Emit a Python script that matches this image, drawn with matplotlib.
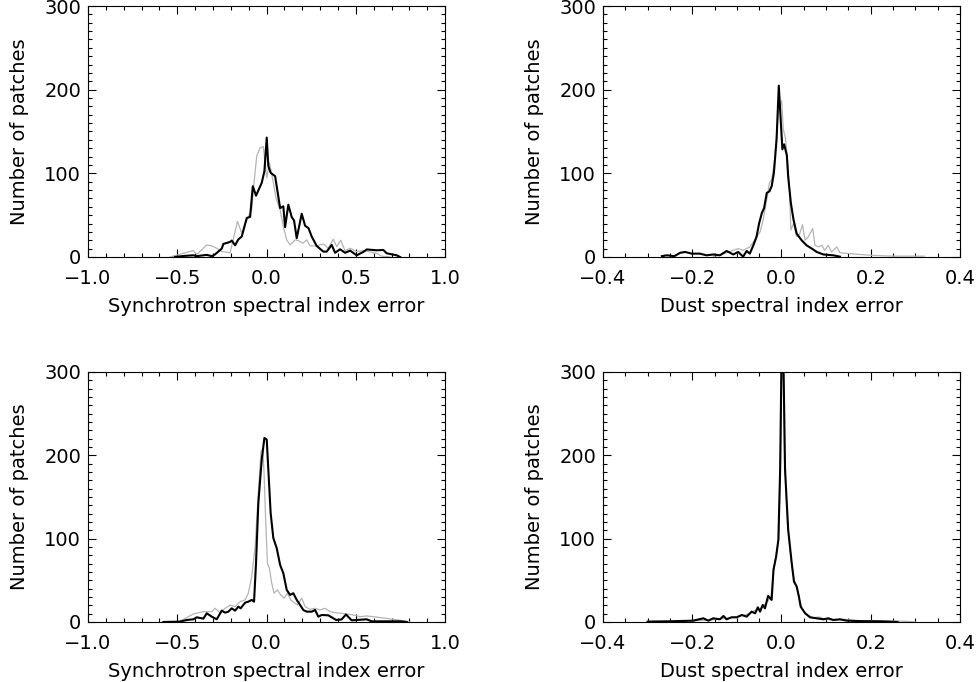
"""Spectral index error histograms, 2x2 panels (synchrotron / dust)."""

import matplotlib

matplotlib.use("Agg")
import matplotlib.pyplot as plt
from matplotlib.ticker import FuncFormatter, MultipleLocator

BLACK, GREY = "#000000", "#b4b4b4"
plt.rcParams.update(
    {
        "font.family": "DejaVu Sans",
        "font.size": 14,
        "axes.linewidth": 0.8,
    }
)

# --- top-left: synchrotron, case 1 ---
syn1_blk_x = [-0.513, -0.466, -0.41, -0.391, -0.335, -0.307, -0.289, -0.251, -0.242, -0.204,
              -0.195, -0.176, -0.158, -0.139, -0.111, -0.092, -0.077, -0.059, -0.027, -0.012,
              0.001, 0.010, 0.023, 0.048, 0.076, 0.094, 0.104, 0.122, 0.141, 0.154,
              0.169, 0.197, 0.216, 0.235, 0.253, 0.281, 0.318, 0.337, 0.365, 0.384,
              0.412, 0.440, 0.468, 0.505, 0.542, 0.561, 0.617, 0.654, 0.673, 0.729, 0.748]
syn1_blk_y = [0, 1.2, 2, 1, 2.5, 1, 3, 10, 15.6, 18,
              19.6, 14, 21, 24.4, 46.5, 48, 84.6, 73.3, 88.6, 102.6,
              142.7, 108.6, 100.6, 96.6, 58.5, 60.5, 35.7, 62.5, 47.7, 43.7,
              22.4, 51.7, 37.3, 34.5, 24.4, 13.2, 6.4, 6.4, 14.4, 5,
              9.2, 5, 7.6, 2, 6, 9, 8, 8.4, 4.4, 2, 0]
syn1_gry_x = [-0.541, -0.466, -0.41, -0.391, -0.335, -0.307, -0.279, -0.251, -0.204, -0.163,
              -0.139, -0.111, -0.083, -0.074, -0.055, -0.036, -0.018, 0.001, 0.016, 0.035,
              0.053, 0.076, 0.094, 0.113, 0.132, 0.160, 0.178, 0.203, 0.225, 0.244,
              0.281, 0.318, 0.346, 0.374, 0.393, 0.415, 0.440, 0.468, 0.505, 0.542,
              0.617, 0.645, 0.692]
syn1_gry_y = [0, 4.4, 7.6, 3, 14.4, 13.2, 10.4, 6.4, 5.2, 42.5,
              28.5, 44.5, 56.5, 80.6, 120.6, 130.6, 131.9, 94.6, 112.6, 92.6,
              70.5, 56.5, 36.5, 20.4, 14.4, 20.4, 19.6, 16.4, 20.4, 13.2,
              13.2, 15.6, 10.4, 21.2, 12.4, 20, 7.6, 10.4, 6.4, 7.6,
              4.4, 1, 0]

# --- top-right: dust, case 1 ---
dst1_blk_x = [-0.268, -0.257, -0.240, -0.227, -0.216, -0.201, -0.183, -0.168, -0.153, -0.138,
              -0.123, -0.108, -0.097, -0.086, -0.078, -0.071, -0.063, -0.056, -0.050, -0.044,
              -0.039, -0.033, -0.027, -0.022, -0.017, -0.011, -0.006, -0.001, 0.002, 0.006,
              0.012, 0.015, 0.021, 0.027, 0.034, 0.045, 0.056, 0.068, 0.079, 0.094,
              0.116, 0.131]
dst1_blk_y = [1, 2, 1, 5, 6, 4, 4, 2, 3, 2,
              7.2, 3, 6, 0.4, 7.2, 4, 14, 24, 40.5, 52.5,
              58.5, 76.5, 78.5, 84.6, 100.6, 140.7, 204.8, 156.7, 128.7, 134.7,
              121.4, 96, 64.5, 44.5, 28, 20, 14, 10, 6, 3,
              2, 0.4]
dst1_gry_x = [-0.153, -0.138, -0.108, -0.097, -0.086, -0.071, -0.063, -0.048, -0.041, -0.033,
              -0.027, -0.022, -0.015, -0.007, 0.0004, 0.004, 0.009, 0.014, 0.018, 0.021,
              0.027, 0.034, 0.041, 0.047, 0.053, 0.060, 0.070, 0.075, 0.083, 0.090,
              0.097, 0.105, 0.112, 0.124, 0.131, 0.154, 0.20, 0.25, 0.32]
dst1_gry_y = [1, 2, 8, 10, 8, 12, 18, 30, 44.5, 68.5,
              88.6, 92.6, 116.6, 172.8, 186.8, 152.7, 142, 112.6, 80.6, 32.5,
              40, 24, 28, 38.5, 20, 24, 34, 14, 12, 14,
              8, 14, 6, 12, 5, 4, 2, 1, 1]

# --- bottom-left: synchrotron, case 2 ---
syn2_blk_x = [-0.578, -0.485, -0.447, -0.410, -0.391, -0.354, -0.335, -0.307, -0.279, -0.251,
              -0.232, -0.214, -0.195, -0.176, -0.158, -0.145, -0.120, -0.102, -0.083, -0.070,
              -0.059, -0.046, -0.027, -0.012, 0.001, 0.010, 0.023, 0.038, 0.057, 0.076,
              0.094, 0.113, 0.132, 0.150, 0.169, 0.188, 0.206, 0.225, 0.253, 0.272,
              0.290, 0.309, 0.346, 0.390, 0.420, 0.445, 0.477, 0.505, 0.561, 0.589,
              0.636, 0.692, 0.748, 0.785]
syn2_blk_y = [0, 0.4, 2.4, 3.2, 5.6, 4, 10.4, 6.4, 3.2, 13.6,
              11.2, 12.4, 16.4, 13.6, 18.4, 16.4, 23.2, 24.4, 26.5, 24.4,
              70.5, 142.7, 194.8, 220.9, 218.9, 182.8, 130.7, 100.6, 88.6, 68.5,
              58.5, 38.5, 32.5, 34.5, 26.5, 20.4, 14.4, 12.4, 12.4, 14.4,
              6.4, 8.4, 8, 2.4, 3, 9, 2, 2.4, 3.2, 0.8,
              0.8, 0.8, 0.8, 0]
syn2_gry_x = [-0.503, -0.466, -0.410, -0.354, -0.307, -0.289, -0.260, -0.232, -0.204, -0.176,
              -0.148, -0.120, -0.102, -0.083, -0.064, -0.046, -0.031, -0.021, -0.014, -0.005,
              0.005, 0.016, 0.029, 0.042, 0.061, 0.079, 0.098, 0.117, 0.135, 0.154,
              0.173, 0.197, 0.216, 0.244, 0.272, 0.300, 0.328, 0.356, 0.384, 0.421,
              0.449, 0.486, 0.524, 0.561, 0.598, 0.654, 0.710, 0.766, 0.804]
syn2_gry_y = [0, 3.2, 9.6, 12.4, 12.4, 16.4, 11.2, 16.4, 20.4, 18.4,
              24.4, 26.5, 34.5, 54.5, 90.6, 154.7, 204.8, 206.8, 178.8, 122.6,
              70.5, 64.5, 46.5, 34.5, 38.5, 32.5, 28.5, 34.5, 26.5, 23.2,
              20.4, 28.5, 18.4, 15.2, 16.4, 14.4, 16.4, 12.4, 11.2, 10.4,
              9.6, 8.4, 6.4, 7.2, 6.4, 4.8, 3.2, 1.6, 0]

# --- bottom-right: dust, case 2 (peak runs off the top) ---
dst2_blk_x = [-0.30, -0.25, -0.198, -0.175, -0.164, -0.153, -0.138, -0.130, -0.123, -0.112,
              -0.100, -0.089, -0.078, -0.067, -0.059, -0.053, -0.048, -0.042, -0.037, -0.030,
              -0.022, -0.018, -0.012, -0.007, -0.003, 0.002, 0.008, 0.015, 0.023, 0.028,
              0.034, 0.039, 0.043, 0.053, 0.064, 0.079, 0.094, 0.105, 0.116, 0.131,
              0.146, 0.18, 0.22, 0.26]
dst2_blk_y = [0.4, 0.8, 1.6, 4.4, 1.6, 4.4, 3.2, 7.2, 3.2, 5.6,
              5.6, 8.4, 6.4, 12.4, 10.4, 17.6, 12.4, 20.4, 16.4, 31.3,
              26.5, 62.5, 78.5, 98.6, 182.8, 400, 182.8, 110.6, 70.5, 48.5,
              42.5, 30.5, 18.4, 10.4, 5.6, 4.4, 3.2, 4.4, 2.4, 3.2,
              1.6, 1.0, 0.8, 0]
dst2_gry_x = [-0.30, -0.20, -0.15, -0.12, -0.10, -0.085, -0.07, -0.06, -0.05, -0.04,
              -0.032, -0.024, -0.018, -0.012, -0.006, -0.002, 0.002, 0.007, 0.014, 0.022,
              0.028, 0.034, 0.040, 0.046, 0.055, 0.07, 0.085, 0.10, 0.12, 0.14,
              0.17, 0.22, 0.28, 0.30]
dst2_gry_y = [0.8, 1.2, 3, 4.4, 6.4, 8, 10.4, 14, 15, 20,
              24, 30, 60, 80, 100, 200, 390, 190, 115, 72,
              50, 44, 28, 16, 10, 5, 6, 3, 2.4, 3.2,
              1.6, 1.6, 0.8, 0]

XLABEL_SYN = "Synchrotron spectral index error"
XLABEL_DST = "Dust spectral index error"
YLABEL = "Number of patches"

panels = [
    # (axes rect, xlim, major, minor, xlabel, grey, black)
    ([0.0902, 0.6232, 0.3658, 0.368], (-1.0, 1.0), 0.5, 0.1, XLABEL_SYN,
     (syn1_gry_x, syn1_gry_y), (syn1_blk_x, syn1_blk_y)),
    ([0.6178, 0.6232, 0.3658, 0.368], (-0.4, 0.4), 0.2, 0.05, XLABEL_DST,
     (dst1_gry_x, dst1_gry_y), (dst1_blk_x, dst1_blk_y)),
    ([0.0902, 0.0880, 0.3658, 0.3666], (-1.0, 1.0), 0.5, 0.1, XLABEL_SYN,
     (syn2_gry_x, syn2_gry_y), (syn2_blk_x, syn2_blk_y)),
    ([0.6178, 0.0880, 0.3658, 0.3666], (-0.4, 0.4), 0.2, 0.05, XLABEL_DST,
     (dst2_gry_x, dst2_gry_y), (dst2_blk_x, dst2_blk_y)),
]

fmt_x = FuncFormatter(lambda v, _: f"{v:.1f}".replace("-", "\u2212"))

fig = plt.figure(figsize=(9.76, 6.82), dpi=100)
for rect, xlim, major, minor, xlabel, grey, black in panels:
    ax = fig.add_axes(rect)
    ax.plot(*grey, color=GREY, lw=0.9)
    ax.plot(*black, color=BLACK, lw=1.5)
    ax.set_xlim(*xlim)
    ax.set_ylim(0, 300)
    ax.xaxis.set_major_locator(MultipleLocator(major))
    ax.xaxis.set_minor_locator(MultipleLocator(minor))
    ax.yaxis.set_major_locator(MultipleLocator(100))
    ax.yaxis.set_minor_locator(MultipleLocator(10))
    ax.xaxis.set_major_formatter(fmt_x)
    ax.tick_params(which="both", direction="in", top=True, right=True, width=0.8)
    ax.tick_params(which="major", length=6)
    ax.tick_params(which="minor", length=3)
    ax.tick_params(axis="x", pad=9)
    ax.tick_params(axis="y", pad=5)
    ax.set_xlabel(xlabel, labelpad=6)
    ax.set_ylabel(YLABEL, labelpad=11)

fig.savefig("out.png", dpi=100)
plt.close(fig)
